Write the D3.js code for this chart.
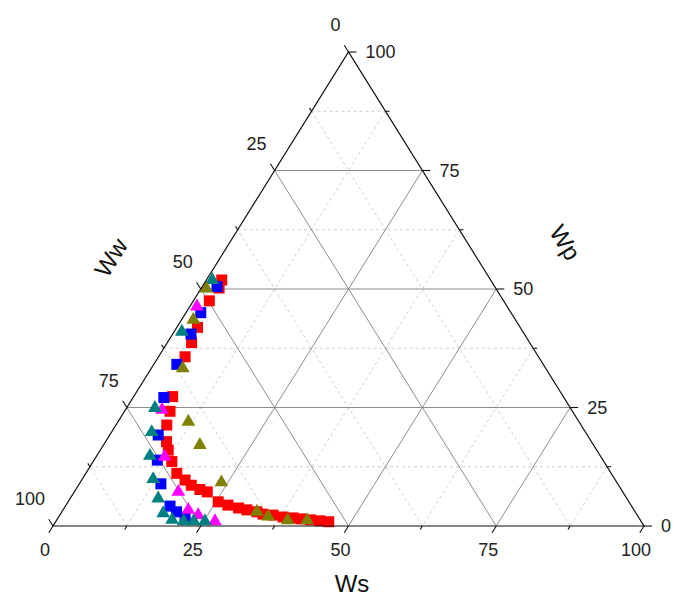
<!DOCTYPE html>
<html>
<head>
<meta charset="utf-8">
<script src="https://cdn.jsdelivr.net/npm/d3@7/dist/d3.min.js"></script>
<style>
  body { margin: 0; background: #fff; }
  svg { display: block; font-family: "Liberation Sans", Arial, sans-serif; }
</style>
</head>
<body>
<svg id="chart" width="678" height="598"></svg>
<script>
// Axis tick values (percent)
const majorTicks = [0, 25, 50, 75, 100];
const minorTicks = [12.5, 37.5, 62.5, 87.5];

// Points as [Ws, Wp, Ww] in percent
const redSquares = [
  [2.6, 51.9, 45.5], [3.0, 50.2, 46.8], [2.7, 47.5, 49.8], [3.5, 41.9, 54.6],
  [4.1, 38.7, 57.2], [4.5, 35.7, 59.8], [6.6, 27.3, 66.1], [7.7, 24.2, 68.1],
  [8.6, 21.3, 70.1], [10.3, 17.8, 71.9], [11.5, 16.0, 72.5], [13.3, 13.6, 73.1],
  [15.4, 11.1, 73.5], [17.5, 9.7, 72.8], [19.1, 8.6, 72.3], [21.0, 7.7, 71.3],
  [22.5, 7.2, 70.3], [25.4, 5.1, 69.5], [27.4, 4.4, 68.2], [29.5, 3.8, 66.7],
  [31.1, 3.4, 65.5], [33.0, 3.0, 64.0], [34.3, 2.5, 63.2], [36.1, 2.3, 61.6],
  [38.0, 1.9, 60.1], [39.8, 1.7, 58.5], [41.2, 1.5, 57.3], [42.9, 1.3, 55.8],
  [44.6, 1.1, 54.3], [46.2, 0.9, 52.9]
];
const blueSquares = [
  [2.5, 50.5, 47.0], [2.5, 45.0, 52.5], [3.1, 40.5, 56.4], [3.9, 34.1, 62.0],
  [5.2, 27.1, 67.7], [8.2, 19.2, 72.6], [10.7, 13.9, 75.4], [13.8, 8.9, 77.3],
  [17.7, 4.2, 78.1], [19.4, 3.0, 77.6], [21.4, 1.9, 76.7]
];
const magentaTriangles = [
  [1.2, 46.3, 52.5], [6.2, 24.5, 69.3], [11.6, 14.6, 73.8], [17.6, 7.2, 75.2],
  [21.2, 3.4, 75.4], [23.4, 2.3, 74.3], [26.9, 1.0, 72.1]
];
const tealTriangles = [
  [1.0, 51.9, 47.1], [1.3, 41.0, 57.7], [4.8, 24.9, 70.3], [6.8, 19.8, 73.4],
  [9.0, 14.8, 76.2], [12.0, 9.9, 78.1], [14.9, 5.8, 79.3], [17.3, 2.7, 80.0],
  [19.5, 1.3, 79.2], [21.6, 1.0, 77.4], [23.3, 1.0, 75.7], [25.2, 1.0, 73.8]
];
const oliveTriangles = [
  [0.9, 50.1, 49.0], [2.0, 43.5, 54.5], [5.3, 33.3, 61.4], [11.9, 22.0, 66.1],
  [16.3, 17.1, 66.6], [23.9, 9.2, 66.9], [33.0, 3.0, 64.0], [35.4, 2.0, 62.6],
  [39.1, 1.2, 59.7], [42.4, 1.2, 56.4]
];

const series = [
  { data: redSquares, shape: d3.symbolSquare, size: 121, color: "#ff0000" },
  { data: blueSquares, shape: d3.symbolSquare, size: 121, color: "#0000ff" },
  { data: magentaTriangles, shape: d3.symbolTriangle, size: 82, color: "#ff00ff" },
  { data: tealTriangles, shape: d3.symbolTriangle, size: 82, color: "#008080" },
  { data: oliveTriangles, shape: d3.symbolTriangle, size: 82, color: "#808000" }
];

// Triangle corners: Ww = 100 at bottom-left, Ws = 100 at bottom-right, Wp = 100 at top
const BL = [53, 526], BR = [644, 526], TOP = [348.5, 52];
const frac = d3.scaleLinear().domain([0, 100]).range([0, 1]);

function project(ws, wp, ww) {
  const s = frac(ws), p = frac(wp), w = frac(ww);
  const t = s + p + w;
  return [
    (BL[0] * w + BR[0] * s + TOP[0] * p) / t,
    (BL[1] * w + BR[1] * s + TOP[1] * p) / t
  ];
}

const svg = d3.select("#chart");
const gGrid = svg.append("g");

// Grid lines: constant Ws, constant Wp, constant Ww
function gridLines(v) {
  return [
    [project(v, 100 - v, 0), project(v, 0, 100 - v)],   // Ws = v
    [project(0, v, 100 - v), project(100 - v, v, 0)],   // Wp = v
    [project(100 - v, 0, v), project(0, 100 - v, v)]    // Ww = v
  ];
}

const line = d3.line();
minorTicks.forEach(v => {
  gridLines(v).forEach(seg => {
    gGrid.append("path").attr("d", line(seg))
      .attr("fill", "none").attr("stroke", "#c8c8c8")
      .attr("stroke-width", 0.9).attr("stroke-dasharray", "3,3");
  });
});
[25, 50, 75].forEach(v => {
  gridLines(v).forEach(seg => {
    gGrid.append("path").attr("d", line(seg))
      .attr("fill", "none").attr("stroke", "#8c8c8c").attr("stroke-width", 1);
  });
});

// Data points
const gPts = svg.append("g");
series.forEach(s => {
  gPts.selectAll(null).data(s.data).enter().append("path")
    .attr("d", d3.symbol().type(s.shape).size(s.size))
    .attr("transform", d => { const p = project(d[0], d[1], d[2]); return `translate(${p[0]},${p[1]})`; })
    .attr("fill", s.color);
});

// Frame
svg.append("path")
  .attr("d", line([BL, BR, TOP]) + "Z")
  .attr("fill", "none").attr("stroke", "#111").attr("stroke-width", 1.2);

// Ticks
const gAxes = svg.append("g").attr("stroke", "#111").attr("stroke-width", 1.1);
const dirLeftSide = [(BL[0] - TOP[0]), (BL[1] - TOP[1])];
const lenL = Math.hypot(dirLeftSide[0], dirLeftSide[1]);
const downLeft = [dirLeftSide[0] / lenL, dirLeftSide[1] / lenL];
const upLeft = [(TOP[0] - BR[0]) / lenL, (TOP[1] - BR[1]) / lenL];

function tick(p, d, len) {
  gAxes.append("line")
    .attr("x1", p[0]).attr("y1", p[1])
    .attr("x2", p[0] + d[0] * len).attr("y2", p[1] + d[1] * len);
}
majorTicks.forEach(v => {
  tick(project(v, 0, 100 - v), downLeft, 8);   // Ws on bottom
  tick(project(100 - v, v, 0), [1, 0], 8);     // Wp on right
  tick(project(0, 100 - v, v), upLeft, 8);     // Ww on left
});
minorTicks.forEach(v => {
  tick(project(v, 0, 100 - v), downLeft, 4);
  tick(project(100 - v, v, 0), [1, 0], 4);
  tick(project(0, 100 - v, v), upLeft, 4);
});

// Tick labels
const gLab = svg.append("g").attr("font-size", 18).attr("fill", "#222");
majorTicks.forEach(v => {
  const pb = project(v, 0, 100 - v);
  gLab.append("text").attr("x", pb[0] - 8).attr("y", pb[1] + 30)
    .attr("text-anchor", "middle").text(v);
  const pr = project(100 - v, v, 0);
  gLab.append("text").attr("x", pr[0] + 17).attr("y", pr[1] + 6)
    .attr("text-anchor", "start").text(v);
  const pl = project(0, 100 - v, v);
  gLab.append("text").attr("x", pl[0] - 8).attr("y", pl[1] - 21)
    .attr("text-anchor", "end").text(v);
});

// Axis titles
const gTitle = svg.append("g").attr("font-size", 24).attr("fill", "#111");
gTitle.append("text").attr("x", 352).attr("y", 592).attr("text-anchor", "middle").text("Ws");
gTitle.append("text").attr("text-anchor", "middle")
  .attr("transform", "translate(118,262) rotate(-58)").text("Ww");
gTitle.append("text").attr("text-anchor", "middle")
  .attr("transform", "translate(558,247) rotate(58)").text("Wp");
</script>
</body>
</html>
